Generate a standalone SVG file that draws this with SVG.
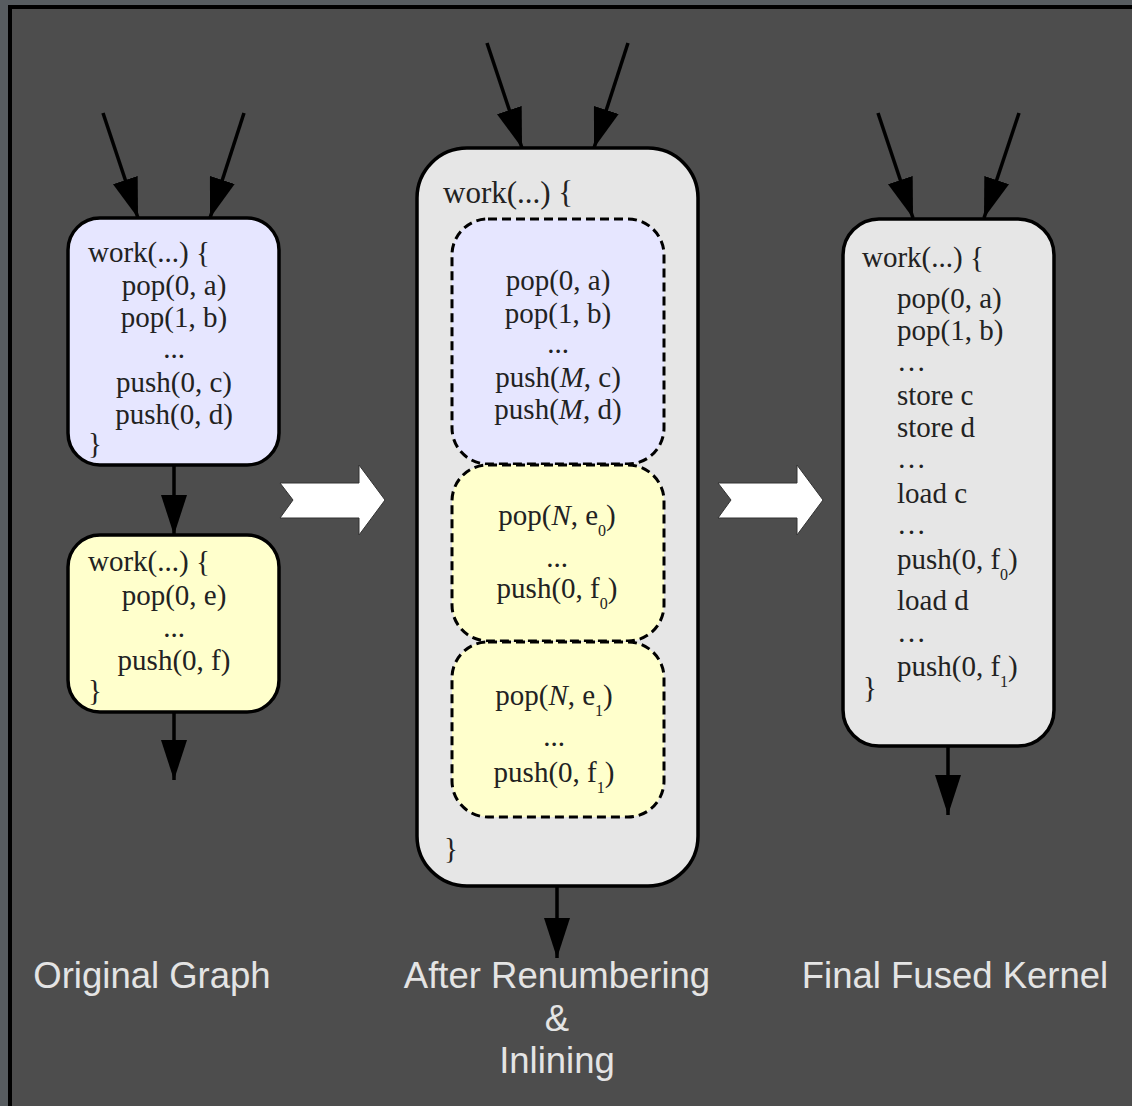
<svg xmlns="http://www.w3.org/2000/svg" width="1132" height="1106" viewBox="0 0 1132 1106">
  <defs>
    <marker id="head" viewBox="0 0 40 26" markerWidth="40" markerHeight="26" markerUnits="userSpaceOnUse" refX="40" refY="13" orient="auto">
      <path d="M0,0 L40,13 L0,26 Z" fill="#000"/>
    </marker>
    <style>
      .box { stroke: #000; stroke-width: 3.5; }
      .inner { stroke: #000; stroke-width: 3; stroke-dasharray: 9 5; }
      .blue { fill: #e6e6ff; }
      .yellow { fill: #ffffcc; }
      .grey { fill: #e6e6e6; }
      .code { font-family: "Liberation Serif", "Times New Roman", serif; font-size: 29px; fill: #222; }
      .mid { text-anchor: middle; }
      .sub { font-size: 16px; }
      .edge { stroke: #000; stroke-width: 3.5; fill: none; marker-end: url(#head); }
      .step { fill: #fff; stroke: #333; stroke-width: 1; }
      .caption { font-family: "Liberation Sans", Arial, sans-serif; font-size: 36.5px; fill: #e4e4e4; text-anchor: middle; }
    </style>
  </defs>

  <!-- page and frame -->
  <rect x="0" y="0" width="1132" height="1106" fill="#575c60"/>
  <rect x="10" y="7" width="1140" height="1120" fill="#4d4d4d" stroke="#000" stroke-width="4"/>

  <!-- connectors -->
  <g id="connectors">
    <line class="edge" x1="103" y1="113" x2="138" y2="218"/>
    <line class="edge" x1="244" y1="113" x2="210" y2="218"/>
    <line class="edge" x1="174" y1="465" x2="174" y2="535"/>
    <line class="edge" x1="174" y1="712" x2="174" y2="780"/>

    <line class="edge" x1="487" y1="43" x2="522" y2="148"/>
    <line class="edge" x1="628" y1="43" x2="594" y2="148"/>
    <line class="edge" x1="557" y1="886" x2="557" y2="958"/>

    <line class="edge" x1="878" y1="113" x2="913" y2="218"/>
    <line class="edge" x1="1019" y1="113" x2="984" y2="218"/>
    <line class="edge" x1="948" y1="746" x2="948" y2="815"/>
  </g>

  <!-- transformation steps -->
  <g id="step-arrows">
    <polygon class="step" points="280,483 359,483 359,465 385,500 359,535 359,518 280,518 293,500"/>
    <polygon class="step" points="718,483 797,483 797,465 823,500 797,535 797,518 718,518 731,500"/>
  </g>

  <!-- original graph: first filter -->
  <g id="filter-a">
    <rect class="box blue" x="68" y="218" width="211" height="247" rx="32"/>
    <text class="code" x="88" y="262">work(...) {</text>
    <text class="code mid" x="174" y="295">pop(0, a)</text>
    <text class="code mid" x="174" y="327">pop(1, b)</text>
    <text class="code mid" x="174" y="358">...</text>
    <text class="code mid" x="174" y="392">push(0, c)</text>
    <text class="code mid" x="174" y="424">push(0, d)</text>
    <text class="code" x="88" y="453">}</text>
  </g>

  <!-- original graph: second filter -->
  <g id="filter-b">
    <rect class="box yellow" x="68" y="535" width="211" height="177" rx="32"/>
    <text class="code" x="88" y="571">work(...) {</text>
    <text class="code mid" x="174" y="605">pop(0, e)</text>
    <text class="code mid" x="174" y="637">...</text>
    <text class="code mid" x="174" y="670">push(0, f)</text>
    <text class="code" x="88" y="700">}</text>
  </g>

  <!-- renumbered and inlined work function -->
  <g id="inlined">
    <rect class="box grey" x="417" y="148" width="281" height="738" rx="50"/>
    <text class="code" x="443" y="203" style="font-size:31px">work(...) {</text>

    <g id="inlined-a">
      <rect class="inner blue" x="452" y="219" width="212" height="245" rx="36"/>
      <text class="code mid" x="558" y="290">pop(0, a)</text>
      <text class="code mid" x="558" y="323">pop(1, b)</text>
      <text class="code mid" x="558" y="353">...</text>
      <text class="code mid" x="558" y="387">push(<tspan font-style="italic">M</tspan>, c)</text>
      <text class="code mid" x="558" y="419">push(<tspan font-style="italic">M</tspan>, d)</text>
    </g>

    <g id="inlined-b0">
      <rect class="inner yellow" x="452" y="465" width="212" height="176" rx="36"/>
      <text class="code mid" x="557" y="525">pop(<tspan font-style="italic">N</tspan>, e<tspan class="sub" dy="11">0</tspan><tspan dy="-11">)</tspan></text>
      <text class="code mid" x="557" y="567">...</text>
      <text class="code mid" x="557" y="598">push(0, f<tspan class="sub" dy="11">0</tspan><tspan dy="-11">)</tspan></text>
    </g>

    <g id="inlined-b1">
      <rect class="inner yellow" x="452" y="642" width="212" height="175" rx="36"/>
      <text class="code mid" x="554" y="705">pop(<tspan font-style="italic">N</tspan>, e<tspan class="sub" dy="11">1</tspan><tspan dy="-11">)</tspan></text>
      <text class="code mid" x="554" y="746">...</text>
      <text class="code mid" x="554" y="782">push(0, f<tspan class="sub" dy="11">1</tspan><tspan dy="-11">)</tspan></text>
    </g>

    <text class="code" x="444" y="858">}</text>
  </g>

  <!-- final fused kernel -->
  <g id="fused">
    <rect class="box grey" x="843" y="219" width="211" height="527" rx="36"/>
    <text class="code" x="862" y="267">work(...) {</text>
    <text class="code" x="897" y="308">pop(0, a)</text>
    <text class="code" x="897" y="340">pop(1, b)</text>
    <text class="code" x="897" y="371">…</text>
    <text class="code" x="897" y="405">store c</text>
    <text class="code" x="897" y="437">store d</text>
    <text class="code" x="897" y="468">…</text>
    <text class="code" x="897" y="503">load c</text>
    <text class="code" x="897" y="534">…</text>
    <text class="code" x="897" y="569">push(0, f<tspan class="sub" dy="11">0</tspan><tspan dy="-11">)</tspan></text>
    <text class="code" x="897" y="610">load d</text>
    <text class="code" x="897" y="642">…</text>
    <text class="code" x="897" y="676">push(0, f<tspan class="sub" dy="11">1</tspan><tspan dy="-11">)</tspan></text>
    <text class="code" x="863" y="697">}</text>
  </g>

  <!-- stage captions -->
  <g id="captions">
    <text class="caption" x="152" y="988">Original Graph</text>
    <text class="caption" x="557" y="988">After Renumbering</text>
    <text class="caption" x="557" y="1031">&amp;</text>
    <text class="caption" x="557" y="1073">Inlining</text>
    <text class="caption" x="955" y="988">Final Fused Kernel</text>
  </g>
</svg>
